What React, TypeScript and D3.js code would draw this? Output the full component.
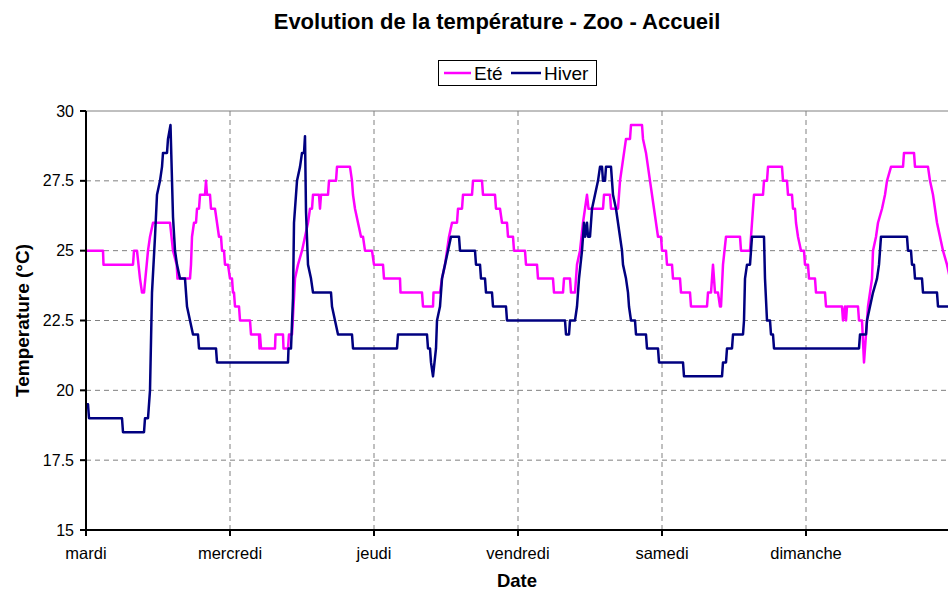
import React from "react";
import * as d3 from "d3";

// time in minutes since Tuesday 00:00, temperature in °C
const eteMinutes = [0,170,175,470,480,510,540,560,580,607,620,640,670,840,870,907,915,1040,1050,1060,1080,1100,1110,1130,1140,1190,1200,1210,1240,1250,1290,1310,1330,1350,1360,1380,1390,1420,1440,1460,1470,1480,1490,1530,1540,1640,1650,1730,1735,1740,1750,1890,1895,1970,1975,2020,2030,2060,2090,2120,2160,2190,2220,2240,2260,2270,2330,2340,2350,2420,2430,2500,2510,2640,2660,2670,2690,2720,2750,2770,2790,2860,2880,2970,2980,3140,3145,3360,3370,3470,3475,3540,3560,3590,3610,3630,3660,3710,3720,3760,3770,3860,3870,3960,3970,4090,4100,4140,4160,4210,4220,4270,4280,4390,4400,4510,4520,4670,4680,4770,4780,4840,4850,4890,4910,4940,4970,4990,5010,5025,5170,5180,5240,5250,5320,5340,5360,5380,5400,5440,5450,5560,5570,5600,5620,5640,5660,5680,5700,5720,5750,5760,5800,5810,5860,5870,5940,5950,6040,6050,6210,6220,6250,6270,6290,6320,6340,6350,6370,6400,6540,6550,6640,6660,6680,6770,6780,6810,6820,6960,6970,7010,7020,7060,7070,7090,7100,7120,7150,7180,7190,7220,7230,7290,7300,7390,7400,7560,7570,7590,7600,7610,7720,7730,7760,7780,7800,7820,7860,7870,7900,7920,7960,7990,8010,8050,8170,8180,8280,8290,8420,8440,8470,8490,8510,8540,8570,8610,8640];
const eteTemps = [25,25,24.5,24.5,25,25,24,23.5,23.5,24.5,25,25.5,26,26,25,24.5,24,24,24.5,25.5,26,26,26.5,26.5,27,27,27.5,27,27,26.5,26.5,26,25.5,25.5,25,25,24.5,24.5,24,24,23.5,23.5,23,23,22.5,22.5,22,22,21.5,22,21.5,21.5,22,22,21.5,21.5,22,22,24,24.5,25,25.5,26,26.5,26.5,27,27,26.5,27,27,27.5,27.5,28,28,27.5,27,26.5,26,25.5,25.5,25,25,24.5,24.5,24,24,23.5,23.5,23,23,23.5,23.5,24,24.5,25,25.5,26,26,26.5,26.5,27,27,27.5,27.5,27,27,26.5,26.5,26,26,25.5,25.5,25,25,24.5,24.5,24,24,23.5,23.5,24,24,23.5,23.5,24.5,25,26,26.5,27,26.5,26.5,27,27,26.5,26.5,27.5,28,28.5,29,29,29.5,29.5,29,28.5,28,27.5,27,26.5,26,25.5,25.5,25,25,24.5,24.5,24,24,23.5,23.5,23,23,23.5,23.5,24.5,23.5,23.5,23,23,24.5,25.5,25.5,25,25,26,27,27,27.5,27.5,28,28,27.5,27.5,27,27,26.5,26.5,26,25.5,25,25,24.5,24.5,24,24,23.5,23.5,23,23,22.5,23,22.5,23,23,22.5,22.5,21,22,23,24,25,25.5,26,26.5,27,27.5,28,28,28.5,28.5,28,28,27.5,27,26.5,26,25.5,25,24.5,24];

const hiverMinutes = [0,20,30,360,370,580,590,620,640,660,690,710,740,760,770,810,820,845,870,890,910,940,990,1000,1010,1040,1070,1120,1130,1300,1310,2020,2025,2050,2070,2080,2110,2140,2160,2180,2190,2200,2220,2250,2270,2450,2460,2490,2520,2660,2670,3110,3120,3410,3420,3440,3450,3470,3500,3510,3540,3560,3590,3620,3650,3730,3740,3890,3900,3940,3950,3990,4000,4060,4070,4200,4210,4790,4800,4830,4840,4890,4910,4930,4960,4980,4990,5010,5020,5040,5060,5090,5120,5140,5160,5170,5190,5200,5250,5260,5270,5300,5320,5340,5360,5370,5400,5420,5430,5450,5490,5500,5600,5610,5720,5730,5970,5980,6360,6370,6400,6410,6460,6470,6570,6580,6590,6610,6640,6650,6660,6780,6790,6810,6840,6850,6870,6880,7730,7740,7800,7810,7840,7870,7910,7930,7950,8210,8220,8250,8260,8280,8290,8360,8370,8510,8520,8640];
const hiverTemps = [19.5,19.5,19,19,18.5,18.5,19,19,20,23.5,25.5,27,27.5,28,28.5,28.5,29,29.5,26.2,25,24.5,24,24,23.5,23,22.5,22,22,21.5,21.5,21,21,21.5,21.5,23.3,26,27.5,28,28.5,28.5,29.1,26.4,24.5,24,23.5,23.5,23,22.5,22,22,21.5,21.5,22,22,21.5,21.5,21,20.5,21.5,22.5,23,24,24.5,25,25.5,25.5,25,25,24.5,24.5,24,24,23.5,23.5,23,23,22.5,22.5,22,22,22.5,22.5,23,24,25,26,25.5,26,25.5,25.5,26.5,27,27.5,28,28,27.5,27.5,28,28,27.5,27,26.5,26,25.5,25,24.5,24,23.5,23,22.5,22.5,22,22,21.5,21.5,21,21,20.5,20.5,21,21,21.5,21.5,22,22,22.5,24,24.5,24.5,25,25.5,25.5,24,22.5,22.5,22,22,21.5,21.5,22,22,22.5,23,23.5,24,24.5,25.5,25.5,25,25,24.5,24.5,24,24,23.5,23.5,23,23];

const dayLabels = ["mardi", "mercredi", "jeudi", "vendredi", "samedi", "dimanche"];
const yTicks = [15, 17.5, 20, 22.5, 25, 27.5, 30];
const seriesNames = ["Eté", "Hiver"];
const seriesColors = ["#FF00FF", "#000080"];

const W = 948, H = 592;
const FONT = "'Liberation Sans', Arial, sans-serif";

export default function App() {
  const left = 86, right = 950, top = 111, bottom = 530;
  const x = d3.scaleLinear().domain([0, 6 * 1440]).range([left, right]);
  const y = d3.scaleLinear().domain([15, 30]).range([bottom, top]);
  const line = d3.line<[number, number]>().x(d => x(d[0])).y(d => y(d[1]));
  const ete: [number, number][] = eteMinutes.map((m, i) => [m, eteTemps[i]]);
  const hiver: [number, number][] = hiverMinutes.map((m, i) => [m, hiverTemps[i]]);
  const dayTicks = dayLabels.map((_, i) => i * 1440);

  return (
    <svg width={W} height={H} style={{ position: "absolute", left: 0, top: 0, background: "#fff" }} fontFamily={FONT}>
      <defs>
        <clipPath id="plot"><rect x={left} y={top - 5} width={right - left} height={bottom - top + 10} /></clipPath>
      </defs>
      <text x={497} y={29} textAnchor="middle" fontSize={22} fontWeight="bold">Evolution de la température - Zoo - Accueil</text>

      {/* grid */}
      {yTicks.filter(t => t > 15 && t < 30).map(t => (
        <line key={"gy" + t} x1={left} x2={right} y1={y(t)} y2={y(t)} stroke="#808080" strokeWidth={1} strokeDasharray="5,4" />
      ))}
      {dayTicks.slice(1).map(t => (
        <line key={"gx" + t} x1={x(t)} x2={x(t)} y1={top} y2={bottom} stroke="#808080" strokeWidth={1} strokeDasharray="5,4" />
      ))}
      <line x1={left} x2={right} y1={top} y2={top} stroke="#808080" strokeWidth={1} />

      {/* series */}
      <g clipPath="url(#plot)">
        <path d={line(ete) || ""} fill="none" stroke={seriesColors[0]} strokeWidth={2.5} strokeLinejoin="round" />
        <path d={line(hiver) || ""} fill="none" stroke={seriesColors[1]} strokeWidth={2.5} strokeLinejoin="round" />
      </g>

      {/* axes */}
      <line x1={left} x2={left} y1={top} y2={bottom} stroke="#000" strokeWidth={2} />
      <line x1={left} x2={right} y1={bottom} y2={bottom} stroke="#000" strokeWidth={2} />
      {yTicks.map(t => (
        <g key={"yt" + t}>
          <line x1={left - 6} x2={left} y1={y(t)} y2={y(t)} stroke="#000" strokeWidth={2} />
          <text x={left - 12} y={y(t) + 5.5} textAnchor="end" fontSize={16}>{t}</text>
        </g>
      ))}
      {dayTicks.map((t, i) => (
        <g key={"xt" + t}>
          <line x1={x(t)} x2={x(t)} y1={bottom} y2={bottom + 6} stroke="#000" strokeWidth={2} />
          <text x={x(t)} y={bottom + 29} textAnchor="middle" fontSize={16.5}>{dayLabels[i]}</text>
        </g>
      ))}
      <text x={517} y={587} textAnchor="middle" fontSize={18.5} fontWeight="bold">Date</text>
      <text transform={`translate(29,${(top + bottom) / 2}) rotate(-90)`} textAnchor="middle" fontSize={19} fontWeight="bold">Temperature (°C)</text>

      {/* legend */}
      <rect x={438.5} y={60.5} width={158} height={25} fill="#fff" stroke="#000" strokeWidth={1} />
      <line x1={444} x2={471} y1={73} y2={73} stroke={seriesColors[0]} strokeWidth={2.5} />
      <text x={474} y={80} fontSize={19}>{seriesNames[0]}</text>
      <line x1={511} x2={541} y1={73} y2={73} stroke={seriesColors[1]} strokeWidth={2.5} />
      <text x={544} y={80} fontSize={19}>{seriesNames[1]}</text>
    </svg>
  );
}
